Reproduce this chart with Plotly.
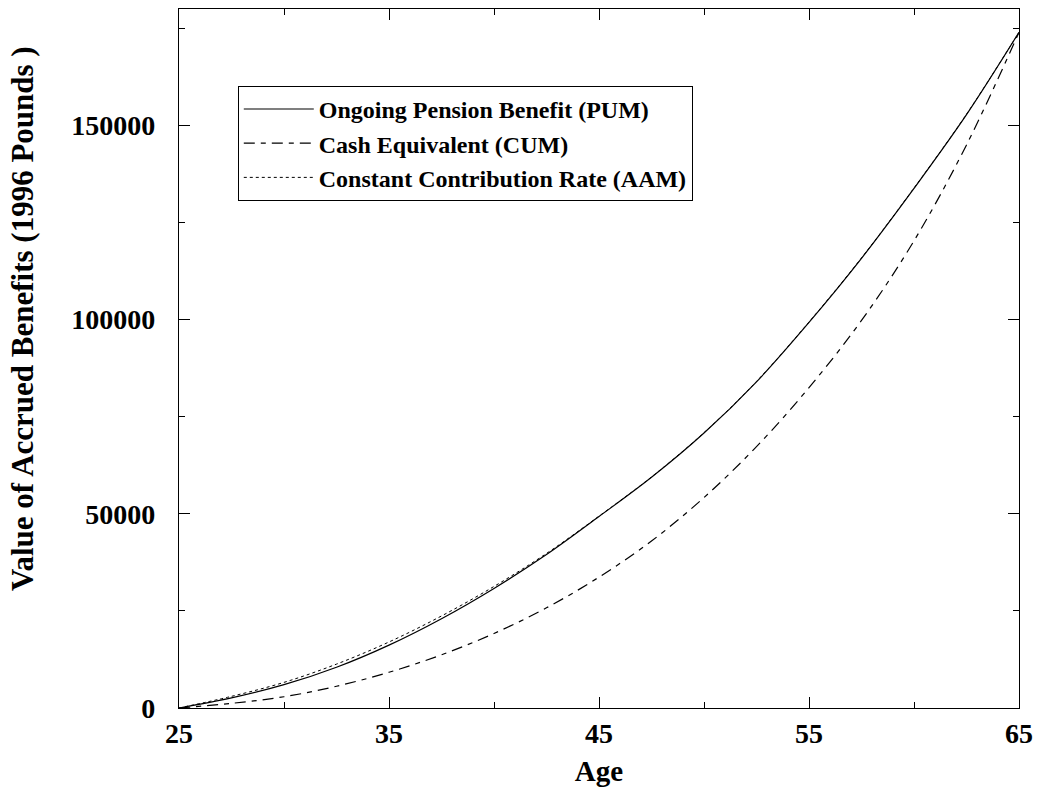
import plotly.graph_objects as go

ages = [25, 27.5, 30, 32.5, 35, 37.5, 40, 42.5, 45, 47.5, 50, 52.5, 55, 57.5, 60, 62.5, 65]
pum = [0, 2600, 6000, 10500, 16200, 23000, 30800, 39500, 49300, 59400, 70800, 84000, 99300, 115800, 133800, 152800, 174000]
cum = [0, 1200, 2900, 5600, 9200, 13700, 19200, 25800, 33700, 43000, 54200, 67300, 82500, 99800, 120300, 145000, 174000]
aam = [0, 3000, 6600, 11300, 17000, 23700, 31300, 39800, 49400, 59500, 70900, 84100, 99400, 115900, 133900, 152900, 174000]

names = ["Ongoing Pension Benefit (PUM)", "Cash Equivalent (CUM)", "Constant Contribution Rate (AAM)"]

x_ticks = [25, 35, 45, 55, 65]
y_ticks = [0, 50000, 100000, 150000]

x_title = "Age"
y_title = "Value of Accrued Benefits (1996 Pounds )"

FONT = "Liberation Serif"
W, H = 1041, 794
L, R, T, B = 179, 19, 8, 86

fig = go.Figure()
fig.add_trace(go.Scatter(x=ages, y=pum, name=names[0], mode="lines",
                         line=dict(color="black", width=1.2, shape="spline")))
fig.add_trace(go.Scatter(x=ages, y=cum, name=names[1], mode="lines",
                         line=dict(color="black", width=1.2, dash="11px,6px,5px,6px", shape="spline")))
fig.add_trace(go.Scatter(x=ages, y=aam, name=names[2], mode="lines",
                         line=dict(color="black", width=1, dash="dot", shape="spline")))

axis_common = dict(showline=True, linecolor="black", linewidth=1.2, mirror="ticks",
                   ticks="inside", ticklen=11, tickcolor="black", tickwidth=1,
                   showgrid=False, zeroline=False,
                   tickfont=dict(family=FONT, size=28, color="black", weight="bold"))

fig.update_xaxes(range=[25, 65], tickvals=x_ticks, ticktext=[str(v) for v in x_ticks],
                 minor=dict(dtick=5, tick0=25, ticks="inside", ticklen=6, tickcolor="black", showgrid=False),
                 title=dict(text=x_title, font=dict(family=FONT, size=29, color="black", weight="bold"), standoff=12),
                 ticklabelstandoff=0, ticklabeloverflow="allow",
                 **axis_common)
fig.update_yaxes(range=[0, 180000], tickvals=y_ticks, ticktext=[str(v) for v in y_ticks],
                 minor=dict(dtick=25000, tick0=0, ticks="inside", ticklen=6, tickcolor="black", showgrid=False),
                 ticklabelstandoff=17,
                 **axis_common)

# y-axis title placed as a rotated annotation (offset upward like the reference)
plot_w = W - L - R
plot_h = H - T - B
fig.add_annotation(text=y_title, xref="paper", yref="paper",
                   x=(22 - L) / plot_w, y=(H - B - 318) / plot_h,
                   xanchor="center", yanchor="middle", textangle=-90, showarrow=False,
                   font=dict(family=FONT, size=31, color="black", weight="bold"))

fig.update_layout(
    width=W, height=H,
    margin=dict(l=L, r=R, t=T, b=B),
    paper_bgcolor="white", plot_bgcolor="white",
    showlegend=True,
    legend=dict(x=(238 - L) / plot_w, y=(H - B - 85) / plot_h, xanchor="left", yanchor="top",
                bgcolor="white", bordercolor="black", borderwidth=1,
                font=dict(family=FONT, size=24, color="black", weight="bold"),
                tracegroupgap=0, itemwidth=70),
)

fig.write_html("out.html", config={"displayModeBar": False},
               post_script="document.body.style.margin='0';")
